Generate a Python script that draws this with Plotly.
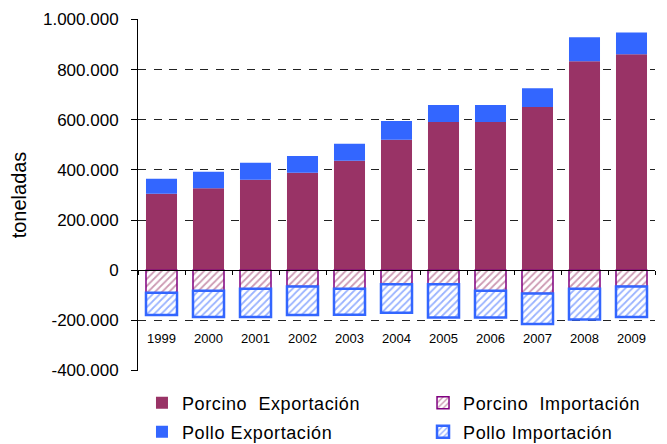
import plotly.graph_objects as go

years = ["1999", "2000", "2001", "2002", "2003", "2004", "2005", "2006", "2007", "2008", "2009"]
porcino_exp = [305000, 327000, 361000, 389000, 437000, 520000, 591000, 591000, 651000, 833000, 861000]
pollo_exp = [60000, 66000, 68000, 67000, 67000, 75000, 68000, 68000, 75000, 96000, 87000]
porcino_imp = [-90000, -82000, -74000, -65000, -74000, -56000, -56000, -82000, -93000, -74000, -65000]
pollo_imp = [-89000, -105000, -113000, -114000, -104000, -114000, -133000, -107000, -122000, -123000, -122000]

y_ticks = [-400000, -200000, 0, 200000, 400000, 600000, 800000, 1000000]
y_tick_text = ["-400.000", "-200.000", "0", "200.000", "400.000", "600.000", "800.000", "1.000.000"]
y_min, y_max = -402000, 1002000
year_label_y = -272000

FONT = "Liberation Sans, Arial, sans-serif"


def lg(name):
    return '<span style="letter-spacing:0.6px">' + name + '</span>'


fig = go.Figure()
fig.add_trace(go.Bar(name=lg("Porcino  Exportación"), x=years, y=porcino_exp, legend="legend",
                     marker=dict(color="#993366", line=dict(width=0))))
fig.add_trace(go.Bar(name=lg("Porcino  Importación"), x=years, y=porcino_imp, legend="legend3",
                     marker=dict(color="white", line=dict(color="#800080", width=1.5),
                                 pattern=dict(shape="/", fgcolor="#993366", bgcolor="white",
                                              size=5, solidity=0.35))))
fig.add_trace(go.Bar(name=lg("Pollo Exportación"), x=years, y=pollo_exp, legend="legend2",
                     marker=dict(color="#3366FF", line=dict(width=0))))
fig.add_trace(go.Bar(name=lg("Pollo Importación"), x=years, y=pollo_imp, legend="legend4",
                     marker=dict(color="white", line=dict(color="#3366FF", width=2.5),
                                 pattern=dict(shape="/", fgcolor="#3366FF", bgcolor="white",
                                              size=5, solidity=0.35))))

for i, yr in enumerate(years):
    fig.add_annotation(x=i, y=year_label_y, xref="x", yref="y", text=yr, showarrow=False,
                       font=dict(family=FONT, size=13, color="#000"))

zero_pos = (0 - y_min) / (y_max - y_min)


def legend_at(x, y):
    return dict(orientation="h", x=x, xanchor="left", y=y, yanchor="middle",
                font=dict(family=FONT, size=18, color="#000"),
                bgcolor="rgba(0,0,0,0)")


row1, row2 = -0.0909, -0.1733
col1, col2 = 0.0077, 0.5513

fig.update_layout(
    width=667, height=444,
    margin=dict(l=130, r=20, t=11, b=81, autoexpand=False),
    paper_bgcolor="white", plot_bgcolor="white",
    barmode="relative", bargap=0.34,
    font=dict(family=FONT, size=17, color="#000"),
    showlegend=True,
    legend=legend_at(col1, row1),
    legend2=legend_at(col1, row2),
    legend3=legend_at(col2, row1),
    legend4=legend_at(col2, row2),
    xaxis=dict(type="category", range=[-0.5, len(years) - 0.5], anchor="free", position=zero_pos,
               showline=True, linecolor="#000", linewidth=1, ticks="outside", ticklen=4,
               tickcolor="#000", tickson="boundaries", showticklabels=False, showgrid=False,
               zeroline=False),
    yaxis=dict(range=[y_min, y_max], tickvals=y_ticks, ticktext=y_tick_text,
               showline=True, linecolor="#000", linewidth=1, ticks="outside", ticklen=6,
               tickcolor="#000", showgrid=True, gridcolor="#222", griddash="8px,7.5px",
               gridwidth=1, zeroline=False, ticklabelstandoff=9,
               tickfont=dict(family=FONT, size=17, color="#000"),
               title=dict(text="toneladas", standoff=25,
                          font=dict(family=FONT, size=20, color="#000"))),
)

fig.write_html("out.html")
